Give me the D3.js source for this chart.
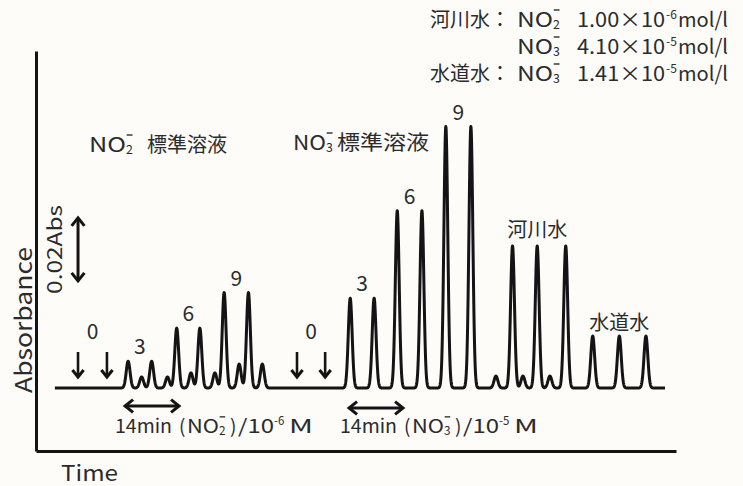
<!DOCTYPE html>
<html>
<head>
<meta charset="utf-8">
<script src="https://cdn.jsdelivr.net/npm/d3@7"></script>
<style>
  body { margin: 0; background: #fdfcf9; }
  svg { display: block; }
  text { font-family: "Noto Sans CJK JP", "Noto Sans", sans-serif; fill: #2b2b2b; }
</style>
</head>
<body>
<svg id="chart" width="743" height="486"></svg>
<script>
// peak times (min) and heights (Abs)
const no2Times = [23.9, 30.0, 36.5, 42.5, 48.8, 55.1];
const no2Heights = [0.0085, 0.0085, 0.019, 0.019, 0.0303, 0.0303];
const no2SideTimes = [27.4, 34.1, 40.2, 46.4, 52.7, 58.7];
const no2SideHeights = [0.0035, 0.0035, 0.0048, 0.0048, 0.0076, 0.0076];
const no3Times = [81.5, 87.7, 93.7, 100.1, 106.3, 112.8];
const no3Heights = [0.0285, 0.0285, 0.0563, 0.0563, 0.083, 0.083];
const riverSideTimes = [119.3, 126.3, 133.3];
const riverSideHeights = [0.0038, 0.0038, 0.0038];
const riverTimes = [123.6, 130.0, 137.4];
const riverHeights = [0.0451, 0.0451, 0.0451];
const tapTimes = [144.4, 151.3, 158.2];
const tapHeights = [0.0165, 0.0165, 0.0165];
const levels = ["3", "6", "9"];
const blankNO2 = [10.9, 18.4];
const blankNO3 = [67.7, 75.0];
const traceSpan = [4.9, 163.2];
const periodMin = 14;
const scaleBarAbs = [0.034, 0.054];
const results = [
  ["河川水：", "2", "1.00×10", "-6"],
  ["", "3", "4.10×10", "-5"],
  ["水道水：", "3", "1.41×10", "-5"]
];

const svg = d3.select("#chart");
const x = d3.scaleLinear().domain([0, 166]).range([36, 676]);
const y = d3.scaleLinear().domain([-0.02, 0.107]).range([451, 51]);
const ink = "#141414";
const txt = "#2b2b2b";

// axes: plain lines, no ticks
svg.append("g").attr("transform", `translate(0,${y(-0.02)})`)
  .call(d3.axisBottom(x).tickValues([]).tickSizeOuter(0))
  .call(g => g.select(".domain").attr("stroke", ink).attr("stroke-width", 3));
svg.append("g").attr("transform", `translate(${x(0)},0)`)
  .call(d3.axisLeft(y).tickValues([]).tickSizeOuter(0))
  .call(g => g.select(".domain").attr("stroke", ink).attr("stroke-width", 3));

// trace
const peaks = [];
[[no2Times, no2Heights], [no2SideTimes, no2SideHeights], [no3Times, no3Heights],
 [riverSideTimes, riverSideHeights], [riverTimes, riverHeights], [tapTimes, tapHeights]]
  .forEach(([ts, hs]) => ts.forEach((t, i) => peaks.push({ t, h: hs[i] })));
const sigma = 0.5;
const trace = [];
for (let t = traceSpan[0]; t <= traceSpan[1]; t += 0.05) {
  let a = 0;
  peaks.forEach(p => { a += p.h * Math.exp(-0.5 * ((t - p.t) / sigma) ** 2); });
  trace.push([t, a]);
}
svg.append("path").datum(trace)
  .attr("fill", "none").attr("stroke", ink).attr("stroke-width", 3).attr("stroke-linejoin", "round")
  .attr("d", d3.line().x(d => x(d[0])).y(d => y(d[1])));

// helpers
function arrowHead(g, px, py, dir, s) {
  const [dx, dy] = dir;
  const nx = -dy, ny = dx;
  g.append("path")
    .attr("d", `M${px - dx * s + nx * s * 0.8},${py - dy * s + ny * s * 0.8}L${px},${py}L${px - dx * s - nx * s * 0.8},${py - dy * s - ny * s * 0.8}`)
    .attr("fill", "none").attr("stroke", ink).attr("stroke-width", 3);
}
function downArrow(t) {
  const g = svg.append("g");
  const px = x(t), y0 = y(0) - 36, y1 = y(0) - 11;
  g.append("line").attr("x1", px).attr("x2", px).attr("y1", y0).attr("y2", y1 - 1)
    .attr("stroke", ink).attr("stroke-width", 2.6);
  arrowHead(g, px, y1, [0, 1], 7);
}
function hDouble(t0, t1, py) {
  const g = svg.append("g");
  g.append("line").attr("x1", x(t0) + 2).attr("x2", x(t1) - 2).attr("y1", py).attr("y2", py)
    .attr("stroke", ink).attr("stroke-width", 3);
  arrowHead(g, x(t0), py, [-1, 0], 8);
  arrowHead(g, x(t1), py, [1, 0], 8);
}
// pieces of text laid left to right; x = fixed start, w = stretched width
function rich(g, x0, y0, size, parts) {
  let cx = x0;
  parts.forEach(p => {
    if (p.x != null) cx = p.x;
    if (p.gap) { cx += p.gap; return; }
    let s, fs = size, yy = y0;
    if (p.ion) { fs = size * 0.62; yy = y0 + size * 0.1; }
    if (p.sup) { fs = size * 0.6; yy = y0 - size * 0.4; }
    s = g.append("text").attr("x", cx).attr("y", yy).style("font-size", fs + "px")
      .text(p.ion || p.sup || p.t);
    let w = s.node().getComputedTextLength();
    if (p.w) { s.attr("textLength", p.w).attr("lengthAdjust", "spacingAndGlyphs"); w = p.w; }
    if (p.ion) {
      g.append("line").attr("x1", cx + w * 0.1).attr("x2", cx + w * 0.95)
        .attr("y1", y0 - size * 0.85).attr("y2", y0 - size * 0.85)
        .attr("stroke", txt).attr("stroke-width", size * 0.07);
      w += size * 0.15;
    }
    cx += w + (p.sup ? 0.5 : 0);
  });
  return cx;
}

// blank injections
[blankNO2, blankNO3].forEach(arr => {
  arr.forEach(downArrow);
  svg.append("text").attr("x", x(d3.mean(arr))).attr("y", y(0) - 49)
    .attr("text-anchor", "middle").style("font-size", "21px").text("0");
});

// standard level labels over peak pairs
[[no2Times, no2Heights], [no3Times, no3Heights]].forEach(([ts, hs]) => {
  levels.forEach((lab, i) => {
    const tm = (ts[2 * i] + ts[2 * i + 1]) / 2;
    svg.append("text").attr("x", x(tm)).attr("y", y(hs[2 * i]) - 7)
      .attr("text-anchor", "middle").style("font-size", "21px").text(lab);
  });
});
svg.append("text").attr("x", x(riverTimes[1])).attr("y", y(riverHeights[1]) - 9)
  .attr("text-anchor", "middle").style("font-size", "20px").text("河川水");
svg.append("text").attr("x", x(tapTimes[1])).attr("y", y(tapHeights[1]) - 6)
  .attr("text-anchor", "middle").style("font-size", "20px").text("水道水");

// section titles
const titles = svg.append("g");
rich(titles, 89, 152, 20, [{ t: "NO", w: 37 }, { ion: "2" }, { x: 147, t: "標準溶液", w: 80 }]);
rich(titles, 293, 150, 20, [{ t: "NO", w: 33 }, { ion: "3" }, { x: 337, t: "標準溶液", w: 92 }]);

// 14 min period arrows and labels
hDouble(no2Times[0] - 0.8, no2Times[0] - 0.8 + periodMin, y(0) + 18);
hDouble(no3Times[0] - 0.3, no3Times[0] - 0.3 + periodMin, y(0) + 20);
const per = svg.append("g");
[["2", "-6", 115], ["3", "-5", 340]].forEach(([n, e, x0]) => {
  rich(per, x0, 433, 19, [
    { t: "14min", w: 57 }, { x: x0 + 64, t: "(" }, { x: x0 + 72, t: "NO", w: 32 }, { ion: n },
    { x: x0 + 115, t: ")" }, { x: x0 + 123, t: "/10", w: 36 }, { sup: e }, { x: x0 + 174, t: "M", w: 24 }
  ]);
});

// absorbance scale bar
const sb = svg.append("g");
sb.append("line").attr("x1", x(blankNO2[0])).attr("x2", x(blankNO2[0]))
  .attr("y1", y(scaleBarAbs[1]) + 2).attr("y2", y(scaleBarAbs[0]) - 2)
  .attr("stroke", ink).attr("stroke-width", 3);
arrowHead(sb, x(blankNO2[0]), y(scaleBarAbs[1]), [0, -1], 8);
arrowHead(sb, x(blankNO2[0]), y(scaleBarAbs[0]), [0, 1], 8);
svg.append("text").attr("transform", `translate(62,${y(d3.mean(scaleBarAbs))}) rotate(-90)`)
  .attr("text-anchor", "middle").attr("textLength", 89).attr("lengthAdjust", "spacingAndGlyphs")
  .style("font-size", "20px").text("0.02Abs");

// axis titles
svg.append("text").attr("transform", "translate(32,320) rotate(-90)")
  .attr("text-anchor", "middle").attr("textLength", 146).attr("lengthAdjust", "spacingAndGlyphs")
  .style("font-size", "23px").text("Absorbance");
svg.append("text").attr("x", 61).attr("y", 481).attr("textLength", 57).attr("lengthAdjust", "spacingAndGlyphs")
  .style("font-size", "22px").text("Time");

// sample results
const res = svg.append("g");
results.forEach(([lab, n, num, e], i) => {
  const yy = 27 + i * 27;
  if (lab) res.append("text").attr("x", 430).attr("y", yy).style("font-size", "20px").text(lab);
  rich(res, 517, yy, 20, [
    { t: "NO", w: 36 }, { ion: n }, { x: 577, t: num, w: 88 }, { x: 666, sup: e }, { x: 678, t: "mol/l", w: 50 }
  ]);
});
</script>
</body>
</html>
